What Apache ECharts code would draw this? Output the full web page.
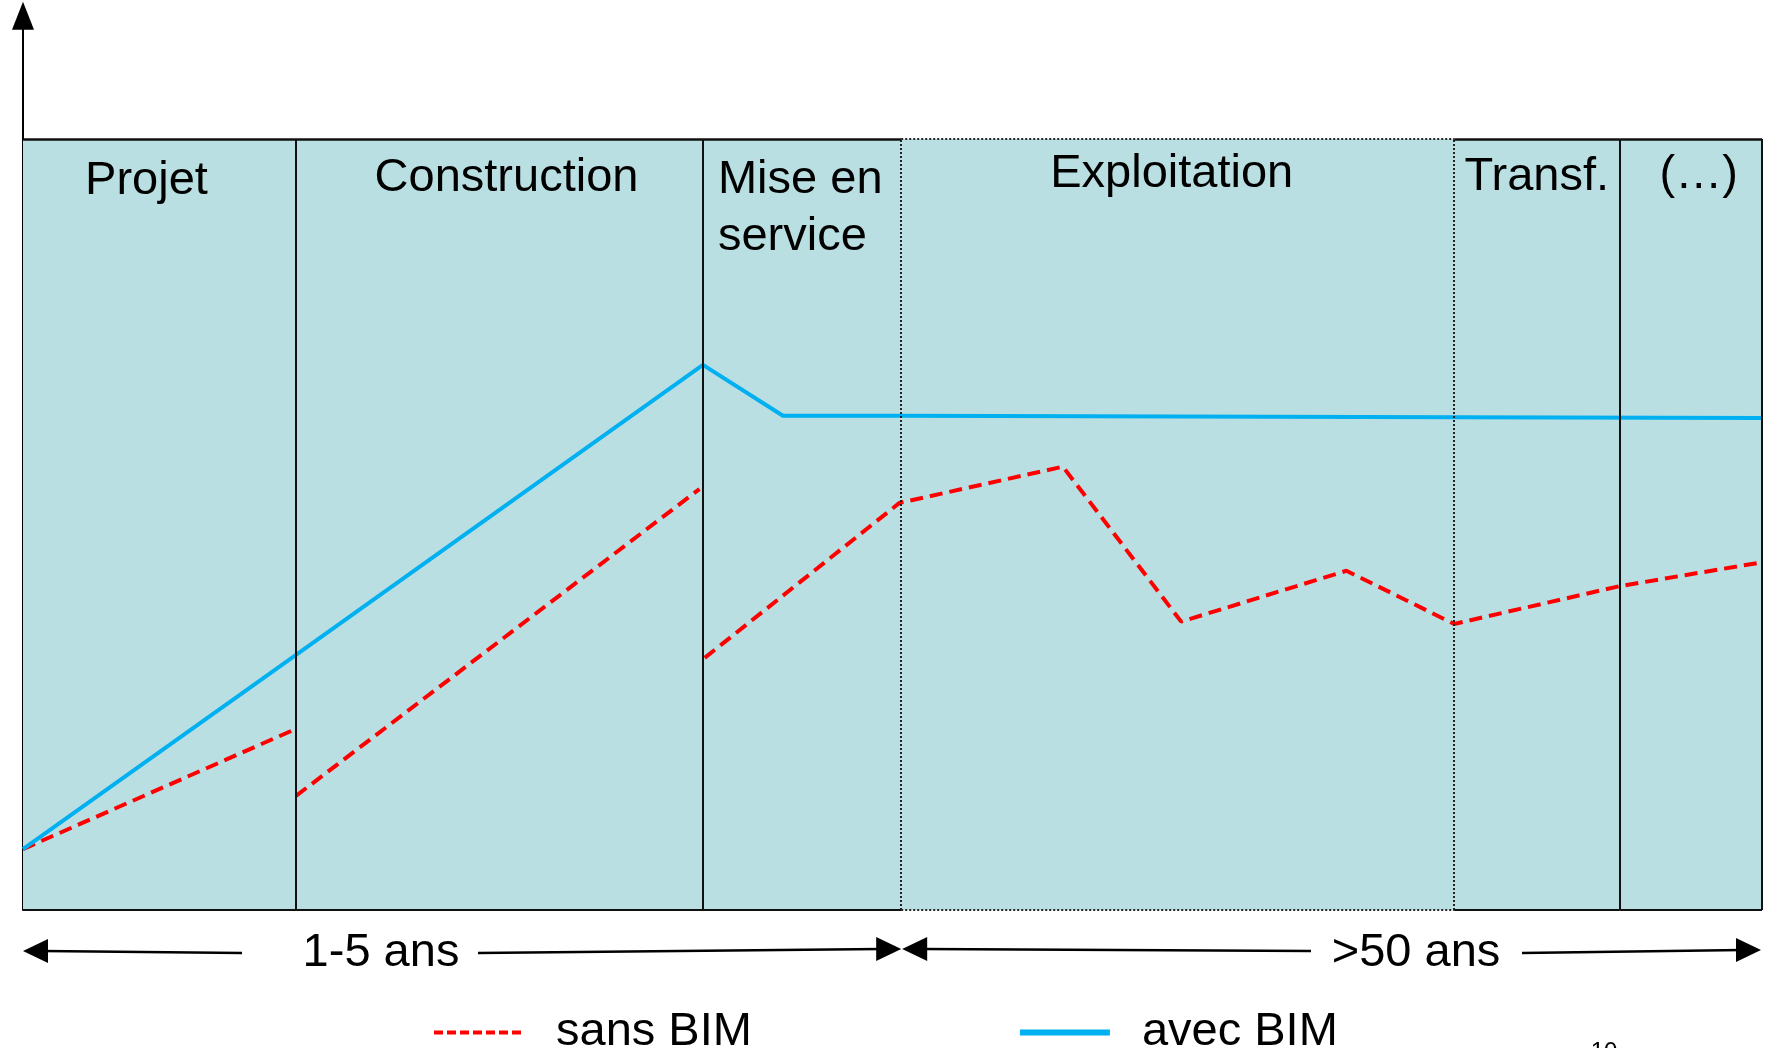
<!DOCTYPE html>
<html><head><meta charset="utf-8">
<script src="https://cdn.jsdelivr.net/npm/echarts@6/dist/echarts.min.js"></script>
<style>html,body{margin:0;padding:0;background:#fff}#c{width:1767px;height:1048px}</style>
</head><body><div id="c"></div>
<script>
// ---- data ----
const phaseNames = ['Projet', 'Construction', 'Mise en\nservice', 'Exploitation', 'Transf.', '(…)'];
const phaseBounds = [0, 157, 391, 505, 823, 918, 1000];
const avecBIM = [[0, 7.9], [157, 33.1], [391, 70.7], [437, 64.1], [505, 64.1], [823, 63.9], [1000, 63.8]];
const sansProjet = [[0, 7.9], [157, 23.5]];
const sansConstruction = [[157, 14.8], [389, 54.6]];
const sansExploitation = [[392, 32.7], [504, 52.8], [598, 57.5], [666, 37.4], [761, 44.0], [823, 37.1], [918, 42.0], [1000, 45.1]];
const durationLabels = ['1-5 ans', '>50 ans'];
const legendNames = ['sans BIM', 'avec BIM'];
const pageNumber = '10';

// ---- layout / style ----
const FONT = '"Liberation Sans", Arial, sans-serif';
const FILL = '#badfe2';
const BLUE = '#00b0f0';
const RED = '#ff0000';
const dottedPhase = 3;
const yTop = 100;
// label layout per phase: [position, distance, dx, lineHeight]
const phaseLabelLayout = [
  ['insideTop', 19, -13, 47],
  ['insideTop', 16, 7, 47],
  ['insideTopLeft', 13, 2, 57],
  ['insideTop', 12, -6, 47],
  ['insideTop', 15, 0, 47],
  ['insideTop', 13, 8, 47]
];

const chart = echarts.init(document.getElementById('c'), null, {renderer: 'canvas'});

const areas = phaseNames.map((n, i) => {
  const L = phaseLabelLayout[i];
  const left = L[0] === 'insideTopLeft';
  return [{
    name: n, xAxis: phaseBounds[i], yAxis: 0,
    label: {show: true, position: L[0], distance: L[1], offset: [L[2] + (left ? 0 : 0), 0], lineHeight: L[3],
      fontSize: 47, fontFamily: FONT, color: '#000', align: left ? 'left' : 'center'}
  }, {xAxis: phaseBounds[i + 1], yAxis: yTop}];
});

const solid = {color: '#111', width: 2, type: 'solid'};
const dotted = {color: '#222', width: 2, type: [2, 2]};
const lines = [];
for (let i = 1; i < phaseBounds.length; i++) {
  const isDot = (i === dottedPhase || i === dottedPhase + 1);
  lines.push([{coord: [phaseBounds[i], 0], lineStyle: isDot ? dotted : solid}, {coord: [phaseBounds[i], yTop]}]);
}
for (let i = 0; i < phaseNames.length; i++) {
  const st = i === dottedPhase ? dotted : solid;
  lines.push([{coord: [phaseBounds[i], yTop], lineStyle: Object.assign({}, st, {width: st === solid ? 2.5 : 2})}, {coord: [phaseBounds[i + 1], yTop]}]);
  lines.push([{coord: [phaseBounds[i], 0], lineStyle: st}, {coord: [phaseBounds[i + 1], 0]}]);
}

const redStyle = {color: RED, width: 4, type: [13, 7]};
const redSeries = [sansProjet, sansConstruction, sansExploitation].map(d => ({
  name: legendNames[0], type: 'line', data: d, symbol: 'none', z: 3,
  lineStyle: redStyle, itemStyle: {color: RED}, silent: true
}));

chart.setOption({
  animation: false,
  backgroundColor: '#fff',
  grid: {left: 23, right: 5, top: 910 - 7.71 * 116, bottom: 138},
  xAxis: {type: 'value', min: 0, max: 1000, axisLine: {show: false}, axisTick: {show: false},
    axisLabel: {show: false}, splitLine: {show: false}},
  yAxis: {type: 'value', min: 0, max: 116,
    axisLine: {show: true, lineStyle: {color: '#000', width: 2}, symbol: ['none', 'triangle'], symbolSize: [22, 28]},
    axisTick: {show: false}, axisLabel: {show: false}, splitLine: {show: false}},
  legend: {
    data: [
      {name: legendNames[0], lineStyle: {color: RED, width: 4, type: [9, 4]}, itemStyle: {opacity: 0}},
      {name: legendNames[1], lineStyle: {color: BLUE, width: 6}, itemStyle: {opacity: 0}}
    ],
    left: 427, top: 1004, itemWidth: 90, itemHeight: 14, itemGap: 265,
    textStyle: {fontSize: 47, fontFamily: FONT, color: '#000', lineHeight: 47, padding: [0, 0, 0, 27]},
    selectedMode: false
  },
  series: [
    {
      name: 'phases', type: 'line', data: [], z: 1, silent: true,
      markArea: {silent: true, itemStyle: {color: FILL, borderWidth: 0}, data: areas},
      markLine: {silent: true, symbol: ['none', 'none'], label: {show: false}, data: lines}
    },
    ...redSeries,
    {
      name: legendNames[1], type: 'line', data: avecBIM, symbol: 'none', z: 4, silent: true,
      lineStyle: {color: BLUE, width: 4}, itemStyle: {color: BLUE}
    }
  ]
});

// ---- duration arrows (annotations) ----
const px = v => chart.convertToPixel({gridIndex: 0}, [v, 0])[0];
const xa = px(phaseBounds[0]), xm = px(phaseBounds[3]), xe = px(phaseBounds[6]);
const ah = 25, hw = 12;
function head(tipX, y, dir) {
  return {type: 'polygon', shape: {points: [[tipX, y], [tipX + dir * ah, y - hw], [tipX + dir * ah, y + hw]]},
    style: {fill: '#000'}, silent: true};
}
function seg(x1, y1, x2, y2) {
  return {type: 'line', shape: {x1, y1, x2, y2}, style: {stroke: '#000', lineWidth: 2.5}, silent: true};
}
function txt(t, x, y, size, va) {
  return {type: 'text', x, y, style: {text: t, fill: '#000', font: size + 'px ' + FONT, align: 'center', verticalAlign: va || 'middle'}, silent: true};
}
chart.setOption({
  graphic: [
    head(xa, 951, 1), seg(xa + 20, 951, 242, 953),
    txt(durationLabels[0], 381, 953, 47),
    seg(478, 953, xm - 20, 949), head(xm, 949, -1),
    head(xm + 1, 949, 1), seg(xm + 21, 949, 1311, 951),
    txt(durationLabels[1], 1416, 953, 47),
    seg(1522, 953, xe - 20, 950), head(xe - 1, 950, -1),
    txt(pageNumber, 1604, 1040, 24, 'top')
  ]
});
</script>
</body></html>
